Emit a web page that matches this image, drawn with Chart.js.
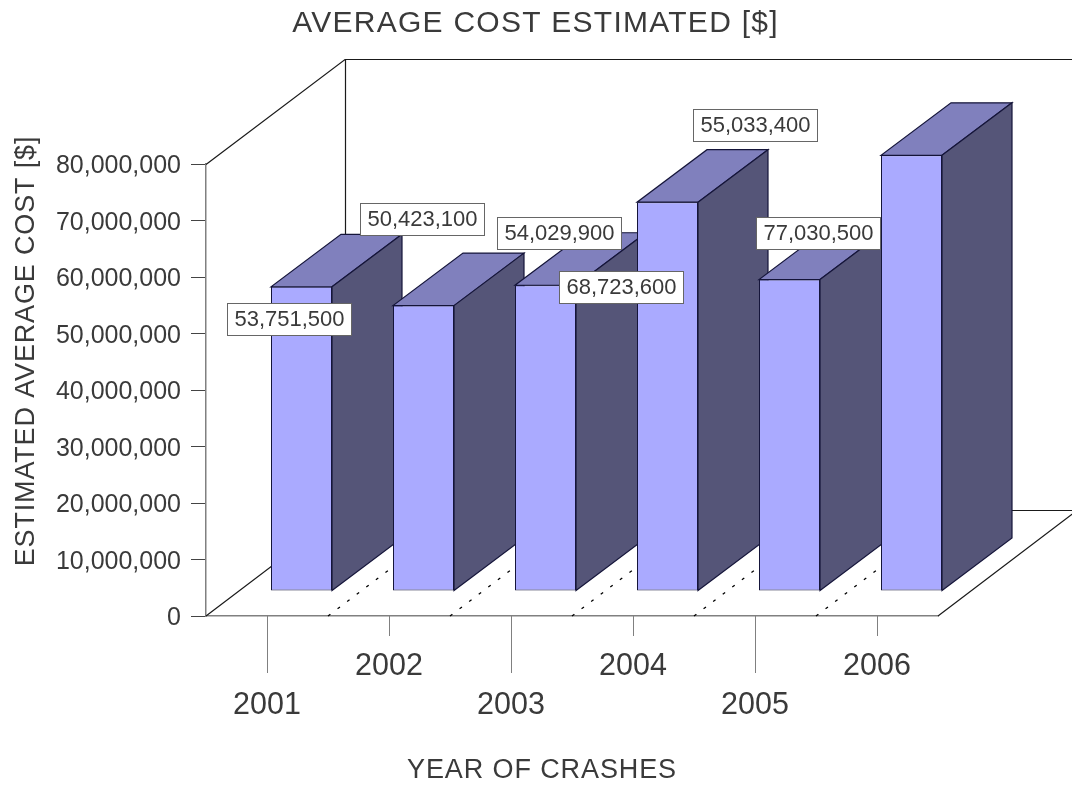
<!DOCTYPE html>
<html><head><meta charset="utf-8">
<script src="https://cdn.jsdelivr.net/npm/chart.js@4"></script>
<style>html,body{margin:0;padding:0;background:#fff;overflow:hidden}canvas{display:block}</style>
</head><body>
<canvas id="c" width="1072" height="785" style="width:1072px;height:785px"></canvas>
<script>
const years = ['2001','2002','2003','2004','2005','2006'];
const estimatedAverageCost = [53751500,50423100,54029900,68723600,55033400,77030500];
const yTickValues = [0,10000000,20000000,30000000,40000000,50000000,60000000,70000000,80000000];

// Label box centres relative to each bar's front-top centre (manual placement in the original)
const labelShift = [[-12,32],[-1,-87],[14,-52],[-46,85],[-34,-155],[-93,78]];

const FONT = '"Liberation Sans", Arial, sans-serif';
const TEXT = '#3a3a3a';
const AXIS = '#808080';
const EDGE = '#15153a';
const FRONT = '#aaaaff', TOP = '#8080bd', SIDE = '#555578';
const WALL = {dx:139, dy:-105};     // depth of the whole box
const BAR = {sx:34.5, dx:70, dy:-52.5}; // bar offset along x, and bar depth
const FLOOR_LIFT = 25.5;            // px the bars stand above the front edge
const PX_PER_UNIT = 452/80000000;
const liftValue = FLOOR_LIFT/PX_PER_UNIT;

function poly(ctx, pts, fill, stroke, lw){
  ctx.beginPath();
  pts.forEach((p,i)=> i?ctx.lineTo(p[0],p[1]):ctx.moveTo(p[0],p[1]));
  ctx.closePath();
  if(fill){ctx.fillStyle=fill;ctx.fill();}
  if(stroke){ctx.strokeStyle=stroke;ctx.lineWidth=lw||1;ctx.lineJoin='miter';ctx.stroke();}
}
function spaced(obj, method, ctx, spacing, dx, dy){
  if(obj['_sp'+method]) return;
  obj['_sp'+method]=true;
  const orig=obj[method];
  obj[method]=function(...a){
    ctx.save();ctx.translate(dx,dy);ctx.letterSpacing=spacing;
    orig.apply(this,a);
    ctx.letterSpacing='0px';ctx.restore();
  };
}

const box3d = {
  id:'box3d',
  beforeDraw(chart){
    const ctx=chart.ctx;
    spaced(chart.titleBlock,'draw',ctx,'1.25px',-0.5,0);
    spaced(chart.scales.x,'drawTitle',ctx,'0.9px',-30,2);
    spaced(chart.scales.y,'drawTitle',ctx,'0.85px',0,-39);
  },
  afterDatasetUpdate(chart){
    chart.getDatasetMeta(0).data.forEach(el=>{
      if(el._wrapped) return;
      el._wrapped = true;
      const base = el.draw;
      el.draw = function(ctx, area){
        const {x,y,base:b,width} = this.getProps(['x','y','base','width'], true);
        ctx.save();
        ctx.translate(BAR.sx,0);
        const l=x-width/2, r=x+width/2;
        poly(ctx,[[l,y],[r,y],[r+BAR.dx,y+BAR.dy],[l+BAR.dx,y+BAR.dy]],TOP,EDGE,1.2);
        poly(ctx,[[r,y],[r+BAR.dx,y+BAR.dy],[r+BAR.dx,b+BAR.dy],[r,b]],SIDE,EDGE,1.2);
        base.call(this,ctx,area);
        ctx.restore();
      };
    });
  },
  beforeDatasetsDraw(chart){
    const {ctx,chartArea:a,scales:{x}}=chart;
    ctx.save();
    // back wall and floor outline
    ctx.beginPath();
    ctx.moveTo(a.left,a.top+.5);ctx.lineTo(a.left+WALL.dx,a.top+WALL.dy+.5);
    ctx.lineTo(a.right+WALL.dx,a.top+WALL.dy+.5);
    ctx.moveTo(a.left+WALL.dx+.5,a.top+WALL.dy);ctx.lineTo(a.left+WALL.dx+.5,a.bottom+WALL.dy);
    ctx.moveTo(a.left,a.bottom);ctx.lineTo(a.left+WALL.dx,a.bottom+WALL.dy-.5);
    ctx.lineTo(a.right+WALL.dx,a.bottom+WALL.dy-.5);ctx.lineTo(a.right,a.bottom);
    ctx.strokeStyle='#1a1a1a';ctx.lineWidth=1.2;ctx.stroke();
    // dashed floor separators between categories
    ctx.setLineDash([3,9]);
    ctx.beginPath();
    for(let i=1;i<years.length;i++){
      const sx=(x.getPixelForTick(i-1)+x.getPixelForTick(i))/2;
      ctx.moveTo(sx,a.bottom);ctx.lineTo(sx+WALL.dx,a.bottom+WALL.dy);
    }
    ctx.strokeStyle='#000';ctx.lineWidth=1.3;ctx.stroke();
    ctx.restore();
  },
  afterDatasetsDraw(chart){
    const {ctx,chartArea:a,scales:{x}}=chart;
    const meta=chart.getDatasetMeta(0);
    ctx.save();
    // alternating long/short x ticks
    ctx.strokeStyle=AXIS;ctx.lineWidth=1;
    years.forEach((_,i)=>{
      const px=Math.round(x.getPixelForTick(i))+.5;
      ctx.beginPath();ctx.moveTo(px,a.bottom);ctx.lineTo(px,a.bottom+(i%2?20:57));ctx.stroke();
    });
    // value labels in boxes
    ctx.font='22px '+FONT;ctx.textAlign='center';ctx.textBaseline='middle';
    estimatedAverageCost.forEach((v,i)=>{
      const el=meta.data[i];
      const cx=el.x+BAR.sx+labelShift[i][0], cy=el.y+labelShift[i][1];
      const txt=v.toLocaleString('en-US');
      const L=Math.round(cx-62.5)+.5,T=Math.round(cy-16)+.5;
      ctx.fillStyle='#fff';ctx.fillRect(L,T,124,32);
      ctx.strokeStyle='#666';ctx.strokeRect(L,T,124,32);
      ctx.fillStyle=TEXT;ctx.fillText(txt,cx,cy+1);
    });
    ctx.restore();
  }
};

new Chart(document.getElementById('c'),{
  type:'bar',
  data:{labels:years.map((y,i)=> i%2?[y,'']:['',y]),
    datasets:[{label:'Estimated average cost',data:estimatedAverageCost,yAxisID:'yBars',
      backgroundColor:FRONT,borderColor:EDGE,borderWidth:1,borderSkipped:false,
      barPercentage:.5,categoryPercentage:1,clip:false}]},
  plugins:[box3d],
  options:{
    responsive:false,animation:false,
    layout:{padding:0},
    plugins:{
      legend:{display:false},tooltip:{enabled:false},
      title:{display:true,text:'AVERAGE COST ESTIMATED [$]',color:TEXT,
        font:{family:FONT,size:30,weight:'normal',lineHeight:1.2},padding:{top:6,bottom:122}}
    },
    scales:{
      x:{
        grid:{drawOnChartArea:false,drawTicks:false},
        border:{color:AXIS,width:1.5},
        ticks:{autoSkip:false,maxRotation:0,minRotation:0,padding:31,color:TEXT,
          font:{family:FONT,size:30.5,lineHeight:1.28}},
        title:{display:true,text:'YEAR OF CRASHES',color:TEXT,
          font:{family:FONT,size:27},padding:{top:0,bottom:0}},
        afterFit(s){s.height=169;}
      },
      y:{
        min:0,max:80000000,position:'left',
        afterBuildTicks(s){s.ticks=yTickValues.map(value=>({value}));},
        grid:{drawOnChartArea:false,drawTicks:true,tickLength:15,color:'#444'},
        border:{color:AXIS,width:1.5},
        ticks:{padding:10,labelOffset:2.5,color:TEXT,font:{family:FONT,size:25},
          callback:v=>v.toLocaleString('en-US')},
        title:{display:true,text:'ESTIMATED AVERAGE COST [$]',color:TEXT,
          font:{family:FONT,size:27},padding:{top:10,bottom:0}},
        afterFit(s){s.width=206;}
      },
      yBars:{display:true,min:-liftValue,max:80000000-liftValue,position:'right',
        grid:{display:false,drawTicks:false},border:{display:false},ticks:{display:false},
        afterFit(s){s.width=134;}}
    }
  }
});
</script>
</body></html>
